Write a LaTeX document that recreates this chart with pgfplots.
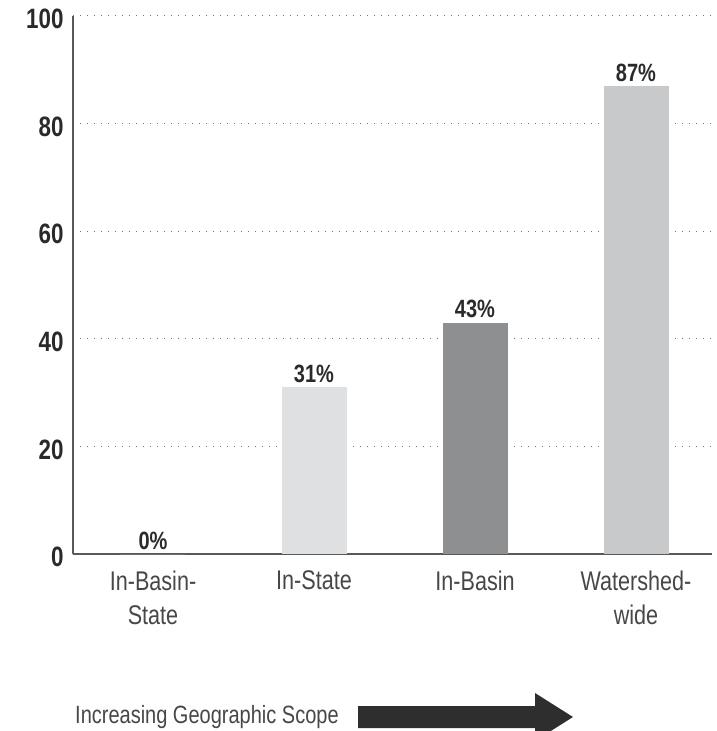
\documentclass[border=0pt]{standalone}
\usepackage{pgfplots}
\pgfplotsset{compat=1.18}
\usepackage{fontspec}
\setmainfont{Liberation Sans}[FakeStretch=0.8]
\definecolor{barA}{HTML}{DFE0E2}
\definecolor{barB}{HTML}{8E8F91}
\definecolor{barC}{HTML}{C8C9CB}
\definecolor{txt}{HTML}{2A2A2A}
\begin{document}
\begin{tikzpicture}
\useasboundingbox (-73pt,-177pt) rectangle (643pt,554pt);
\begin{axis}[
  at={(0pt,0pt)}, anchor=south west,
  scale only axis, width=639pt, height=538pt,
  xmin=-0.497, xmax=3.472, ymin=0, ymax=100,
  axis x line=bottom, axis y line=left,
  axis line style={-, draw=black!65, line width=1.2pt},
  xtick={0,1,2,3},
  xticklabels={{In-Basin-\\State},{In-State},{In-Basin},{Watershed-\\wide}},
  xticklabel style={align=center, font=\fontsize{27}{34}\selectfont, text=black!72, yshift=-13pt},
  ytick={0,20,40,60,80,100},
  yticklabel style={font=\bfseries\fontsize{28}{28}\selectfont, text=txt, xshift=-6pt, yshift=-3pt},
  /pgf/number format/assume math mode=true,
  major tick length=0pt,
  ymajorgrids, grid style={dash pattern=on 1pt off 6pt, draw=black!55, line width=1pt},
  ybar, bar width=65pt,
  nodes near coords={\pgfmathprintnumber{\pgfplotspointmeta}\%},
  every node near coord/.append style={font=\bfseries\fontsize{25}{25}\selectfont, text=txt, yshift=1pt},
  clip=false,
]
\addplot[bar shift=0pt, fill=white, draw=none] coordinates {(0,0)};
\addplot[bar shift=0pt, fill=barA, draw=none] coordinates {(1,31)};
\addplot[bar shift=0pt, fill=barB, draw=none] coordinates {(2,43)};
\addplot[bar shift=0pt, fill=barC, draw=none] coordinates {(3,87)};
\end{axis}
\node[anchor=west, font=\fontsize{25}{25}\selectfont, text=black!72, inner sep=0pt] at (2pt,-163pt) {Increasing Geographic Scope};
\fill[black!82] (285pt,-152pt) -- (462pt,-152pt) -- (462pt,-139pt) -- (500pt,-163pt) -- (462pt,-187pt) -- (462pt,-174pt) -- (285pt,-174pt) -- cycle;
\end{tikzpicture}
\end{document}
